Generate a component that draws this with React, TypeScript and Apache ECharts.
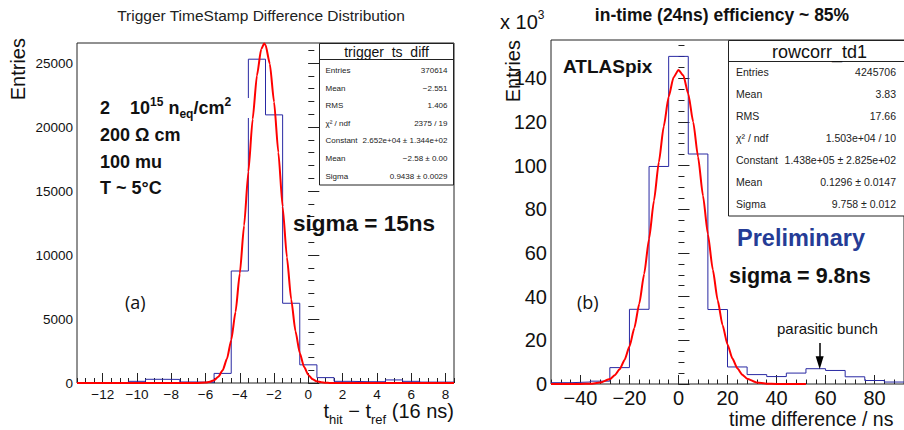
import React, { useEffect, useRef } from "react";
import * as echarts from "echarts";

// ---------- Data (panel a) ----------
const leftBinCenters = [-13, -12, -11, -10, -9, -8, -7, -6, -5, -4, -3, -2, -1, 0, 1, 2, 3, 4, 5, 6, 7, 8];
const leftCounts = [20, 20, 30, 130, 290, 280, 80, 50, 750, 8750, 25300, 20950, 6230, 1420, 420, 130, 100, 100, 240, 130, 70, 70];
const leftBinWidth = 1;
const leftFitX = [-13.5, -7, -6.5, -6, -5.75, -5.5, -5.25, -5, -4.75, -4.5, -4.25, -4, -3.75, -3.5, -3.25, -3, -2.75, -2.58, -2.5, -2.25, -2, -1.75, -1.5, -1.25, -1, -0.75, -0.5, -0.25, 0, 0.25, 0.5, 0.75, 1, 1.25, 1.5, 8.5];
const leftFitY = [0, 0, 5, 37, 94, 221, 485, 991, 1886, 3349, 5543, 8551, 12298, 16491, 20614, 24019, 26093, 26520, 26425, 24947, 21956, 18015, 13780, 9826, 6532, 4047, 2339, 1260, 632, 296, 129, 53, 20, 7, 2, 0];
const leftXTicks = [-12, -10, -8, -6, -4, -2, 0, 2, 4, 6, 8];
const leftYTicks = [0, 5000, 10000, 15000, 20000, 25000];

// ---------- Data (panel b), entries in units of 10^3 ----------
const rightBinCenters = [-48, -40, -32, -24, -16, -8, 0, 8, 16, 24, 32, 40, 48, 56, 64, 72, 80, 88];
const rightCounts = [0.6, 0.9, 1.3, 7.5, 34.2, 99.6, 150, 105.3, 34.1, 7.8, 4.3, 3.4, 5.0, 7.0, 6.2, 3.3, 1.6, 0.9];
const rightBinWidth = 8;
const rightFitX = [-52, -44, -40, -36, -32, -28, -26, -24, -22, -20, -18, -16, -14, -12, -10, -8, -6, -4, -2, 0, 2, 4, 6, 8, 10, 12, 14, 16, 18, 20, 22, 24, 26, 28, 32, 36, 40, 44, 52];
const rightFitY = [0, 0, 0.03, 0.15, 0.64, 2.25, 3.99, 6.76, 10.99, 17.13, 25.6, 36.7, 50.4, 66.4, 83.9, 101.6, 118.0, 131.5, 140.4, 143.8, 141.2, 132.9, 120.0, 103.9, 86.2, 68.6, 52.4, 38.3, 26.9, 18.1, 11.67, 7.22, 4.28, 2.43, 0.69, 0.17, 0.04, 0, 0];
const rightXTicks = [-40, -20, 0, 20, 40, 60, 80];
const rightYTicks = [0, 20, 40, 60, 80, 100, 120, 140];

// ---------- Stats boxes ----------
const statsLabels = ["Entries", "Mean", "RMS", "χ² / ndf", "Constant", "Mean", "Sigma"];
const leftStatsValues = ["370614", "−2.551", "1.406", "2375 / 19", "2.652e+04 ± 1.344e+02", "−2.58 ± 0.00", "0.9438 ± 0.0029"];
const rightStatsValues = ["4245706", "3.83", "17.66", "1.503e+04 / 10", "1.438e+05 ± 2.825e+02", "0.1296 ± 0.0147", "9.758 ± 0.012"];

const FONT = '"Liberation Sans", Arial, Helvetica, sans-serif';
const HIST_COLOR = "#2929a3";
const AXIS_COLOR = "#222";

function stepData(centers: number[], counts: number[], w: number) {
  const pts: number[][] = centers.map((c, i) => [c - w / 2, counts[i]]);
  pts.push([centers[centers.length - 1] + w / 2, counts[counts.length - 1]]);
  return pts;
}

function seq(start: number, end: number, step: number) {
  const out: number[] = [];
  for (let v = start; v <= end + 1e-9; v += step) out.push(Math.round(v * 1000) / 1000);
  return out;
}

const fmt = (v: number) => String(v).replace("-", "−");

function mainAxis(kind: "x" | "y", gridIndex: number, min: number, max: number, ticks: number[], fontSize: number, margin: number, tickLen: number) {
  return {
    type: "value",
    gridIndex,
    min,
    max,
    position: kind === "x" ? "bottom" : "left",
    axisLine: { show: false },
    splitLine: { show: false },
    axisTick: { show: true, inside: true, length: tickLen, customValues: ticks, lineStyle: { color: AXIS_COLOR, width: 1 } },
    axisLabel: { show: true, customValues: ticks, formatter: fmt, fontSize, color: "#111", margin, fontFamily: FONT },
  };
}

function minorAxis(kind: "x" | "y", gridIndex: number, min: number, max: number, ticks: number[], tickLen: number) {
  return {
    type: "value",
    gridIndex,
    min,
    max,
    position: kind === "x" ? "bottom" : "left",
    axisLine: { show: false },
    splitLine: { show: false },
    axisTick: { show: true, inside: true, length: tickLen, customValues: ticks, lineStyle: { color: AXIS_COLOR, width: 1 } },
    axisLabel: { show: false },
  };
}

function statsBox(x: number, y: number, w: number, h: number, titleH: number, title: string, titleSize: number, values: string[], rowY0: number, rowStep: number, labelX: number, valueX: number, fontSize: number) {
  const children: any[] = [
    { type: "rect", shape: { x, y, width: w, height: h }, style: { fill: "#fff", stroke: "#222", lineWidth: 1 } },
    { type: "line", shape: { x1: x, y1: y + titleH, x2: x + w, y2: y + titleH }, style: { stroke: "#222", lineWidth: 1 } },
    { type: "text", x: x + w / 2, y: y + titleH / 2 + 0.5, style: { text: title, fontSize: titleSize, fontFamily: FONT, fill: "#111", align: "center", verticalAlign: "middle" } },
  ];
  statsLabels.forEach((lab, i) => {
    children.push({ type: "text", x: labelX, y: rowY0 + i * rowStep, style: { text: lab, fontSize, fontFamily: FONT, fill: "#222", align: "left", verticalAlign: "middle" } });
    children.push({ type: "text", x: valueX, y: rowY0 + i * rowStep, style: { text: values[i], fontSize, fontFamily: FONT, fill: "#222", align: "right", verticalAlign: "middle" } });
  });
  return { type: "group", z: 100, children };
}

function txt(x: number, y: number, text: string, fontSize: number, bold = false, extra: any = {}) {
  return {
    type: "text",
    z: 100,
    x,
    y,
    style: { text, fontSize, fontWeight: bold ? "bold" : "normal", fontFamily: FONT, fill: "#111", align: "left", verticalAlign: "middle", ...extra },
  };
}

export default function App() {
  const ref = useRef<HTMLDivElement>(null);

  useEffect(() => {
    document.body.style.margin = "0";
    const chart = echarts.init(ref.current!, null, { renderer: "svg" });

    const leftHist = stepData(leftBinCenters, leftCounts, leftBinWidth);
    const rightHist = stepData(rightBinCenters, rightCounts, rightBinWidth);
    const leftFit = leftFitX.map((x, i) => [x, leftFitY[i]]);
    const rightFit = rightFitX.map((x, i) => [x, rightFitY[i]]);

    const option: any = {
      animation: false,
      backgroundColor: "#fff",
      grid: [
        { left: 77, top: 43, width: 377, height: 340, show: true, borderColor: AXIS_COLOR, borderWidth: 1, backgroundColor: "transparent" },
        { left: 551, top: 40, width: 356, height: 344, show: true, borderColor: AXIS_COLOR, borderWidth: 1, backgroundColor: "transparent" },
      ],
      xAxis: [
        mainAxis("x", 0, -13.5, 8.5, leftXTicks, 13.5, 4, 10),
        minorAxis("x", 0, -13.5, 8.5, seq(-13.5, 8.5, 0.5), 5),
        mainAxis("x", 1, -52, 92, rightXTicks, 20, 4, 9),
        minorAxis("x", 1, -52, 92, seq(-52, 92, 4), 4.5),
      ],
      yAxis: [
        mainAxis("y", 0, 0, 26565, leftYTicks, 13.5, 4, 11),
        minorAxis("y", 0, 0, 26565, seq(0, 26000, 1000), 6),
        mainAxis("y", 1, 0, 157.5, rightYTicks, 20, 4, 11),
        minorAxis("y", 1, 0, 157.5, seq(0, 155, 5), 6),
      ],
      series: [
        {
          type: "line", xAxisIndex: 0, yAxisIndex: 0, data: leftHist, step: "end", symbol: "none",
          lineStyle: { color: HIST_COLOR, width: 1 }, z: 2, silent: true,
        },
        {
          type: "line", xAxisIndex: 0, yAxisIndex: 0, data: leftFit, symbol: "none", smooth: 0.2, smoothMonotone: "x",
          lineStyle: { color: "#ff0000", width: 2 }, z: 3, silent: true,
        },
        {
          type: "line", xAxisIndex: 2, yAxisIndex: 2, data: rightHist, step: "end", symbol: "none",
          lineStyle: { color: HIST_COLOR, width: 1 }, z: 2, silent: true,
          markLine: {
            silent: true, symbol: ["none", "none"], label: { show: false },
            lineStyle: { color: "#000", width: 1.5, type: "solid" },
            data: [[{ coord: [57.6, 18.8] }, { coord: [57.6, 9.7] }]],
          },
          markPoint: {
            silent: true,
            data: [{ coord: [57.6, 9.7], symbol: "triangle", symbolSize: [8, 13], symbolRotate: 180, itemStyle: { color: "#000" }, label: { show: false } }],
          },
        },
        {
          type: "line", xAxisIndex: 2, yAxisIndex: 2, data: rightFit, symbol: "none", smooth: 0.2, smoothMonotone: "x",
          lineStyle: { color: "#ff0000", width: 2 }, z: 3, silent: true,
        },
      ],
      graphic: [
        // titles
        txt(261, 15, "Trigger TimeStamp Difference Distribution", 15.5, false, { align: "center", fill: "#222" }),
        txt(722, 15, "in-time (24ns) efficiency ~ 85%", 17.5, true, { align: "center" }),
        // axis titles
        { type: "text", z: 100, x: 18, y: 38, rotation: Math.PI / 2, style: { text: "Entries", fontSize: 20, fontFamily: FONT, fill: "#111", align: "right", verticalAlign: "middle" } },
        { type: "text", z: 100, x: 513, y: 40, rotation: Math.PI / 2, style: { text: "Entries", fontSize: 20, fontFamily: FONT, fill: "#111", align: "right", verticalAlign: "middle" } },
        {
          type: "text", z: 100, x: 500, y: 22,
          style: {
            text: "{m|x 10}{s|3}", align: "left", verticalAlign: "middle",
            rich: {
              m: { fontSize: 20, fontFamily: FONT, fill: "#111", lineHeight: 26, verticalAlign: "middle" },
              s: { fontSize: 12, fontFamily: FONT, fill: "#111", lineHeight: 12, verticalAlign: "top" },
            },
          },
        },
        {
          type: "text", z: 100, x: 454, y: 411,
          style: {
            text: "{m|t}{s|hit}{m| − t}{s|ref}{m| (16 ns)}", align: "right", verticalAlign: "middle",
            rich: {
              m: { fontSize: 20, fontFamily: FONT, fill: "#111", lineHeight: 30, verticalAlign: "middle" },
              s: { fontSize: 13, fontFamily: FONT, fill: "#111", lineHeight: 13, verticalAlign: "bottom" },
            },
          },
        },
        txt(729, 418.5, "time difference / ns", 19.5),
        // panel a annotations
        {
          type: "text", z: 100, x: 100, y: 108,
          style: {
            text: "{b|2    10}{p|15}{b| n}{q|eq}{b|/cm}{p|2}", align: "left", verticalAlign: "middle",
            rich: {
              b: { fontSize: 18, fontWeight: "bold", fontFamily: FONT, fill: "#111", lineHeight: 24, verticalAlign: "middle" },
              p: { fontSize: 12, fontWeight: "bold", fontFamily: FONT, fill: "#111", lineHeight: 14, verticalAlign: "top" },
              q: { fontSize: 12, fontWeight: "bold", fontFamily: FONT, fill: "#111", lineHeight: 10, verticalAlign: "bottom" },
            },
          },
        },
        { type: "rect", z: 90, shape: { x: 245, y: 98, width: 6, height: 20 }, style: { fill: "#fff" } },
        txt(100, 135, "200 Ω cm", 18, true),
        txt(100, 161.7, "100 mu", 18, true),
        txt(100, 188.3, "T ~ 5°C", 18, true),
        txt(293, 223, "sigma = 15ns", 22.5, true),
        txt(125, 302, "(a)", 18, false, { fontFamily: '"Open Sans", "DejaVu Sans", sans-serif' }),
        // panel b annotations
        txt(563, 66, "ATLASpix", 19, true),
        txt(737, 237.5, "Preliminary", 23.5, true, { fill: "#253c96" }),
        txt(729, 276, "sigma = 9.8ns", 21.5, true),
        txt(577, 302, "(b)", 18, false, { fontFamily: '"Open Sans", "DejaVu Sans", sans-serif' }),
        txt(777, 328.5, "parasitic bunch", 15),
        // stats boxes
        statsBox(319.5, 43.5, 134, 141.5, 16, "trigger_ts_diff", 14, leftStatsValues, 70.5, 17.6, 325.5, 447.5, 8),
        statsBox(728.5, 40.5, 182, 175.5, 21, "rowcorr_td1", 18, rightStatsValues, 72, 22, 736, 896, 10.5),
      ],
    };

    chart.setOption(option);
    return () => chart.dispose();
  }, []);

  return <div ref={ref} style={{ position: "fixed", left: 0, top: 0, width: 904, height: 430, background: "#fff" }} />;
}
